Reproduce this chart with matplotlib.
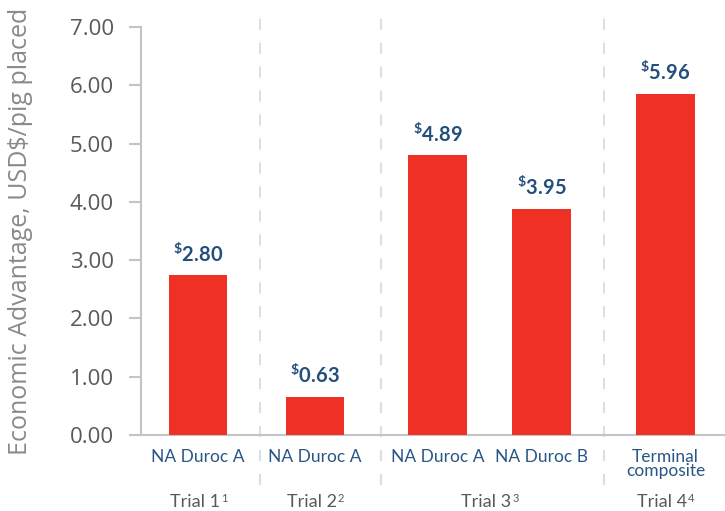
import matplotlib
matplotlib.use("Agg")
import matplotlib.pyplot as plt
import matplotlib.transforms as mtransforms

# data
breeds = ["NA Duroc A", "NA Duroc A", "NA Duroc A", "NA Duroc B", "Terminal\ncomposite"]
bar_values = [2.74, 0.65, 4.80, 3.88, 5.85]
value_labels = ["2.80", "0.63", "4.89", "3.95", "5.96"]
trial_of_bar = [0, 1, 2, 2, 3]
trial_names = ["Trial 1", "Trial 2", "Trial 3", "Trial 4"]
trial_notes = ["1", "2", "3", "4"]
yticks = [0, 1, 2, 3, 4, 5, 6, 7]

positions = [0, 1, 2.05, 2.94, 4]
separators = [0.53, 1.565, 3.475]

plt.rcParams["mathtext.fontset"] = "custom"
plt.rcParams["mathtext.rm"] = "Lato"
plt.rcParams["mathtext.bf"] = "Lato:bold"

red = "#EE3124"
blue = "#2A5685"
dark_blue = "#244E7C"
grey_txt = "#595959"
axis_grey = "#BFC5C8"

fig = plt.figure(figsize=(7.25, 5.11), dpi=100)
ax = fig.add_axes([141 / 725, 1 - 435 / 511, 584 / 725, 408 / 511])

ax.bar(positions, bar_values, width=0.5, color=red, zorder=3)

for x, v, lab in zip(positions, bar_values, value_labels):
    ax.annotate(r"$^{\mathbf{\$}}\mathbf{" + lab + "}$", (x, v), xytext=(0, 7),
                textcoords="offset points", ha="center", va="bottom",
                fontsize=14.5, color=dark_blue)

ax.set_xlim(-0.49, 4.51)
ax.set_ylim(0, 7)
ax.set_yticks(yticks)
ax.set_yticklabels(["%.2f" % t for t in yticks], fontfamily="Open Sans",
                   fontsize=16, color=grey_txt)
ax.tick_params(axis="y", length=8.6, width=1.5, color=axis_grey, pad=11)

ax.set_xticks(positions)
ax.set_xticklabels(breeds, fontfamily="Lato", fontsize=12.5, color=blue,
                   linespacing=0.85)
ax.tick_params(axis="x", length=0, pad=10)

for s in ["top", "right"]:
    ax.spines[s].set_visible(False)
for s in ["left", "bottom"]:
    ax.spines[s].set_color(axis_grey)
    ax.spines[s].set_linewidth(1.5)

ax.set_ylabel("Economic Advantage, USD$/pig placed", fontfamily="Open Sans",
              fontsize=18, color="#8A8A8A")
ax.yaxis.set_label_coords(-0.185, 0.5)

trans = mtransforms.blended_transform_factory(ax.transData, ax.transAxes)
for sx in separators:
    ax.plot([sx, sx], [-0.123, 1.047], transform=trans, clip_on=False,
            color="#DCDFE0", lw=1.5, dashes=(5.3, 6.2), zorder=1)

for i, (name, note) in enumerate(zip(trial_names, trial_notes)):
    xs = [p for p, t in zip(positions, trial_of_bar) if t == i]
    t = ax.annotate(name, (sum(xs) / len(xs), -0.176), xycoords=trans,
                    xytext=(-2.5, 0), textcoords="offset points",
                    ha="center", va="baseline",
                    fontfamily="Lato", fontsize=13, color=grey_txt)
    ax.annotate(note, xy=(1, 1), xycoords=t, xytext=(0.8, 0.5),
                textcoords="offset points", ha="left", va="top",
                fontfamily="Lato", fontsize=8, color=grey_txt)

fig.savefig("out.png", dpi=100)
